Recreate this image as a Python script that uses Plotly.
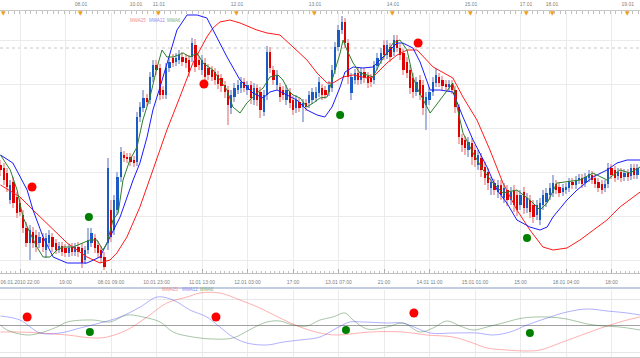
import plotly.graph_objects as go

# ---------------- data (hourly candles, price level units) ----------------
candle_idx = list(range(197))

opens = [115,112,107,80,98,83,77,65,52,37,
         48,45,37,42,30,37,43,37,30,34,
         32,27,33,28,33,32,20,30,37,42,
         35,30,23,37,70,50,70,103,125,123,
         123,120,118,163,172,182,180,203,215,212,
         190,185,212,222,218,220,223,222,220,223,
         235,220,210,217,212,210,208,205,202,195,
         190,172,183,190,192,198,190,195,180,192,
         188,168,185,228,210,195,193,190,180,188,
         180,172,178,173,177,177,180,182,187,192,
         190,188,192,210,233,250,258,237,187,200,
         207,200,208,204,202,200,214,220,235,225,
         233,228,240,232,227,218,210,202,188,200,
         195,175,180,188,197,203,200,196,193,196,
         190,173,142,140,130,137,130,115,122,113,
         108,92,97,88,95,82,90,80,90,85,
         75,88,72,80,75,65,60,75,78,85,
         87,96,93,88,90,92,98,95,100,102,
         97,102,105,102,98,96,92,96,112,110,
         104,108,103,107,104,112,105]

closes = [110,100,93,95,77,67,68,52,37,50,
          37,33,43,33,42,45,33,30,34,28,
          27,32,28,33,28,17,30,40,47,32,
          27,22,13,112,43,80,103,128,122,121,
          118,117,163,173,182,178,203,215,210,185,
          185,212,218,217,222,225,218,217,208,237,
          213,215,220,203,205,203,200,196,194,188,
          175,185,192,195,198,192,195,182,192,180,
          170,185,228,212,200,205,183,185,190,177,
          170,180,172,177,173,185,188,188,198,185,
          185,195,210,233,250,258,237,203,203,207,
          200,208,202,197,198,215,222,227,225,235,
          223,240,232,225,210,207,192,188,198,185,
          172,183,188,198,205,197,194,193,196,190,
          173,143,135,132,138,123,120,125,110,102,
          97,98,90,95,85,92,80,88,75,70,
          85,72,82,68,63,75,77,85,87,92,
          97,90,87,92,93,98,95,100,102,96,
          103,106,100,96,92,90,96,112,105,102,
          108,102,107,103,112,105,112]

highs = [120,117,112,100,103,88,82,70,58,55,
         53,50,48,47,47,50,47,41,38,38,
         36,36,37,37,38,37,34,52,52,46,
         39,34,28,122,80,85,108,133,129,127,
         127,124,168,178,190,186,208,220,220,216,
         194,217,224,226,227,230,228,226,225,242,
         241,224,225,222,216,214,212,209,206,199,
         194,190,197,200,203,202,199,199,197,196,
         193,190,234,233,214,210,197,194,195,192,
         184,185,182,181,181,189,192,193,203,196,
         194,199,215,238,255,264,262,241,207,211,
         212,212,212,208,206,219,227,232,240,240,
         237,245,245,236,231,223,215,207,203,205,
         200,188,193,203,212,207,204,200,200,200,
         194,176,146,144,143,142,135,130,127,118,
         112,103,101,100,100,97,95,93,95,90,
         90,93,87,85,80,80,82,90,92,97,
         105,100,97,96,97,102,102,104,106,106,
         107,110,109,106,102,100,100,117,116,114,
         112,112,111,111,116,116,116]

lows = [104,95,88,76,72,62,64,47,33,20,
        32,28,32,28,22,33,28,26,27,24,
        23,23,24,24,23,12,16,26,33,27,
        22,17,10,30,38,45,65,98,118,117,
        114,113,114,158,168,174,176,198,205,180,
        181,181,208,213,214,216,214,212,203,218,
        208,210,205,198,200,199,195,191,188,182,
        155,166,178,186,187,188,185,176,175,174,
        162,164,180,207,195,190,178,180,175,172,
        165,167,168,158,169,172,176,178,183,180,
        181,184,188,206,229,246,232,196,180,196,
        195,196,197,192,193,196,210,216,220,221,
        218,224,228,220,205,202,186,182,184,180,
        165,150,175,184,193,193,190,189,189,186,
        167,136,128,125,123,115,113,110,103,95,
        90,85,85,82,80,77,74,75,68,64,
        70,66,67,62,57,60,55,70,73,80,
        83,86,83,84,86,88,91,91,96,92,
        93,98,96,92,88,86,88,92,101,98,
        100,98,99,99,100,101,101]

# moving averages on the price panel (sampled at candle positions)
mwa25_x = [0,6,10,16.2,20.5,26.6,30.6,33.7,35.8,38.9,42.9,46.9,51.2,55.2,59.2,63.5,65.4,67.5,70.6,73.7,
           78.9,82,86,90,94.3,97.4,100.5,102.3,105.4,108.5,112.8,114.6,118.9,122,125.1,128.2,129.1,133.1,139.2,142.3,
           146.6,150.6,154.6,158.9,162.9,166.9,170,174.3,178.3,182.3,186.6,190.6,194.6,196.8]
mwa25_y = [95,83,70,50,37,23,17,20,27,43,73,110,150,183,217,243,252,258,260,257,
           250,247,245,233,220,207,197,197,203,205,202,203,217,225,230,230,227,213,202,183,
           160,130,97,70,50,33,30,32,40,50,60,73,83,88]

mwa12_x = [0,3.8,8.2,10,13.1,16.2,20.5,26.6,30.6,32.8,34.6,36.8,40.8,42.9,45.1,46.9,49.1,51.2,54.3,57.4,
           60.5,63.5,65.4,69.7,73.7,77.7,80.8,82.9,85.1,88.2,91.2,94.3,97.4,99.8,102,104.5,106,108.5,111.5,114.6,
           118.9,122,123.8,126.9,129.1,132.2,135.2,139.2,142.3,145.4,149.7,152.8,155.8,158.9,162.9,166,168.2,170,
           174.3,177.4,182.3,186.6,189.7,192.8,196.8]
mwa12_y = [125,117,90,70,43,23,17,17,23,37,50,63,100,117,143,170,193,217,250,265,
           265,262,250,223,200,187,182,188,190,185,180,170,165,163,173,193,208,213,212,213,
           227,237,237,232,218,190,190,188,163,140,113,90,77,60,53,50,53,63,
           80,90,103,110,117,120,120]

mwa6_x = [0,3,5.1,6.9,9.1,11.2,13.1,15.2,17.4,19.2,22.3,25.4,27.5,29.7,31.5,32.8,34.6,36.2,37.7,39.8,
          42,43.8,46,48.2,49.7,51.2,53.1,56.2,58.3,60.5,62.3,65.4,67.5,69.7,71.5,73.7,75.8,78.9,80.8,82.9,
          85.4,86.9,88.5,90,92.2,94.3,96.2,98.3,100.5,102.3,104.5,105.4,106.6,108.5,110.6,112.8,114.6,116.8,118.9,120.8,
          122.9,125.1,126.9,128.5,132.2,135.2,138.3,139.2,140.5,142.3,145.4,148.5,151.5,154.6,158.9,162.9,166,168.2,171.2,174.3,
          178.3,182.3,186.6,190.6,193.7,196.8]
mwa6_y = [125,110,90,63,47,33,23,23,30,33,33,37,40,40,30,37,60,67,100,120,
          133,160,183,213,230,223,223,227,223,227,217,210,200,190,173,167,177,187,192,203,
          205,200,190,185,182,173,177,182,183,203,227,240,230,217,207,205,203,217,227,237,
          240,230,203,190,167,180,193,197,173,147,127,110,97,87,90,80,70,77,97,98,
          100,107,100,110,107,113]

sell_x = [9.7, 62.6, 128.5]
sell_y = [93, 196, 237]
buy_x = [27.2, 104.5, 162]
buy_y = [63, 165, 42]
price_line = 232

# oscillator panel
osc25_x = [0,6,12.2,20.5,28.5,32.8,38.9,45.1,51.2,57.4,61.4,67.5,73.7,79.8,86,92.2,98.3,103.5,113.7,123.8,
           131.2,139.2,144.5,149.7,155.8,162,166,172.2,180.5,186.6,192.8,196.8]
osc25_y = [-7,-7,-8,-10,-13,-12,-5,8,22,28,32,32,25,17,7,-2,-8,-10,-7,-7,
           -10,-12,-17,-23,-25,-26,-25,-18,-8,-1,5,8]
osc12_x = [0,6,12.2,18.3,24.5,30.6,36.8,43,48.2,53.1,58.3,63.5,67.5,71.5,75.8,82,87,92.2,98.3,103.5,
           107.5,111.5,119,123.8,132.2,139.2,146.6,151.5,156.8,162,168.2,174.3,180.5,186.6,192.8,196.8]
osc12_y = [9,5,-8,-8,-3,2,8,18,28,25,15,8,-2,-12,-18,-20,-17,-15,-12,-3,
           3,3,2,2,-8,-8,-8,-10,-7,0,7,13,16,14,12,10]
osc6_x = [0,2,8.2,12.2,17.4,20.5,28.5,33.7,38.9,43.8,49.1,53.1,59.2,65.4,71.5,77.7,82,86,90,94.3,
          98.3,102.3,106,108.5,112.8,119,123.8,129.1,133.1,137.4,141.4,145.4,149.7,154.6,160.8,168.2,174.3,180.5,185.4,190.6,
          196.8]
osc6_y = [0,-5,-10,-8,-2,3,5,3,10,8,3,-7,-12,-14,-13,-3,3,4,0,-1,
          5,8,12,5,-4,-2,2,-7,-3,4,-1,-5,-2,2,7,8,6,1,-1,-2,
          -5]
osc_sell_x = [8.2, 66.3, 127.2]
osc_sell_y = [8, 8, 12]
osc_buy_x = [27.5, 106.3, 162.9]
osc_buy_y = [-7, -5, -8]

# axis labels
bottom_tick_idx = [6,20,34,48,62,76,90,104,118,132,146,160,174,188]
bottom_tick_text = ["06.01.2010 22:00","19:00","08.01 09:00","10.01 23:00","11.01 13:00","12.01 03:00",
                    "17:00","13.01 07:00","21:00","14.01 11:00","15.01 01:00","15:00","18.01 04:00","18:00"]
top_tick_idx = [24.75,41.7,48.75,72.75,96.75,120.75,144.75,161.7,169.7,193.0]
top_tick_text = ["08.01","10.01","11.01","12.01","13.01","14.01","15.01","17.01","18.01","19.01"]
day_marker_idx = [0.8,24.75,48.75,72.75,96.75,120.75,144.75,161.7,169.7,193.0]

# ---------------- figure ----------------
XR = [-0.154, 196.77]
UP_BODY, DN_BODY = "#1b5cc4", "#e00000"
UP_WICK, DN_WICK = "#aab6dc", "#f0b0b0"
FONT = "Liberation Sans, Arial, sans-serif"

is_up = [c >= o for o, c in zip(opens, closes)]

fig = go.Figure()
# wicks
fig.add_trace(go.Bar(x=candle_idx, base=lows, y=[h - l for h, l in zip(highs, lows)],
                     width=0.32, marker=dict(color=[UP_WICK if u else DN_WICK for u in is_up], line_width=0),
                     xaxis="x", yaxis="y", hoverinfo="skip"))
# bodies
fig.add_trace(go.Bar(x=candle_idx, base=opens, y=[c - o for o, c in zip(opens, closes)],
                     width=0.7, marker=dict(color=[UP_BODY if u else DN_BODY for u in is_up], line_width=0),
                     xaxis="x", yaxis="y"))
# moving averages
fig.add_trace(go.Scatter(x=mwa25_x, y=mwa25_y, mode="lines", line=dict(color="#ff1a1a", width=1)))
fig.add_trace(go.Scatter(x=mwa12_x, y=mwa12_y, mode="lines", line=dict(color="#1a1aff", width=1)))
fig.add_trace(go.Scatter(x=mwa6_x, y=mwa6_y, mode="lines", line=dict(color="#2d7d2d", width=1)))
fig.add_trace(go.Scatter(x=sell_x, y=sell_y, mode="markers", marker=dict(color="#ff0000", size=9, line_width=0)))
fig.add_trace(go.Scatter(x=buy_x, y=buy_y, mode="markers", marker=dict(color="#008000", size=8, line_width=0)))
# the date axis along the top shares the candle positions (invisible carrier trace so the axis is drawn)
fig.add_trace(go.Scatter(x=top_tick_idx, y=[closes[0]] * len(top_tick_idx), mode="markers",
                         marker=dict(opacity=0, size=1), xaxis="x3", yaxis="y", hoverinfo="skip"))
# oscillator
fig.add_trace(go.Scatter(x=osc25_x, y=osc25_y, mode="lines", line=dict(color="rgba(255,60,60,0.4)", width=1, shape="spline"),
                         xaxis="x2", yaxis="y2"))
fig.add_trace(go.Scatter(x=osc12_x, y=osc12_y, mode="lines", line=dict(color="rgba(60,60,255,0.4)", width=1, shape="spline"),
                         xaxis="x2", yaxis="y2"))
fig.add_trace(go.Scatter(x=osc6_x, y=osc6_y, mode="lines", line=dict(color="rgba(40,110,40,0.4)", width=1, shape="spline"),
                         xaxis="x2", yaxis="y2"))
fig.add_trace(go.Scatter(x=osc_sell_x, y=osc_sell_y, mode="markers", marker=dict(color="#ff0000", size=9, line_width=0),
                         xaxis="x2", yaxis="y2"))
fig.add_trace(go.Scatter(x=osc_buy_x, y=osc_buy_y, mode="markers", marker=dict(color="#008000", size=8, line_width=0),
                         xaxis="x2", yaxis="y2"))

H = 358.0
def py(px):
    return 1 - px / H

fig.update_layout(
    template="none",
    width=640, height=358, margin=dict(l=0, r=0, t=0, b=0, pad=0),
    paper_bgcolor="white", plot_bgcolor="white",
    showlegend=False, barmode="overlay", bargap=0,
    font=dict(family=FONT, size=5, color="#808080"),
    xaxis=dict(domain=[0, 1], range=XR, anchor="y", automargin=False,
               tickmode="array", tickvals=bottom_tick_idx, ticktext=bottom_tick_text,
               ticks="inside", ticklen=4, tickcolor="#b0b0b0", ticklabelstandoff=4,
               showline=True, linecolor="#c0c0c0", linewidth=1,
               showgrid=True, gridcolor="#ebebeb", gridwidth=1, zeroline=False,
               tickfont=dict(size=5, color="#808080"),
               minor=dict(tickmode="linear", tick0=6, dtick=1.4, ticks="inside", ticklen=2,
                          tickcolor="#c0c0c0", showgrid=False)),
    yaxis=dict(domain=[py(273), py(12)], range=[7, 268], anchor="x", automargin=False,
               tickmode="linear", tick0=20, dtick=44, showticklabels=False, ticks="",
               showgrid=True, gridcolor="#ebebeb", zeroline=False, showline=False),
    xaxis3=dict(overlaying="x", side="top", anchor="free", position=py(10), range=XR, automargin=False,
                tickmode="array", tickvals=top_tick_idx, ticktext=top_tick_text, ticks="",
                ticklabelstandoff=2,
                showline=True, linecolor="#c8c8c8", showgrid=False, zeroline=False,
                tickfont=dict(size=5, color="#808080"),
                minor=dict(tickmode="linear", tick0=0.8, dtick=1.714, ticks="inside", ticklen=3,
                           tickcolor="#c0c0c0", showgrid=False)),
    xaxis2=dict(domain=[0, 1], range=XR, anchor="y2", matches="x", automargin=False,
                tickmode="array", tickvals=bottom_tick_idx, showticklabels=False, ticks="",
                showline=True, linecolor="#c8c8c8", showgrid=True, gridcolor="#ebebeb", zeroline=False),
    yaxis2=dict(domain=[py(357), py(290)], range=[-32, 35], anchor="x2", automargin=False,
                tickmode="array", tickvals=[-27, 26], showticklabels=False, ticks="",
                showgrid=True, gridcolor="#e6e6e6", zeroline=True, zerolinecolor="#a0a0a0", zerolinewidth=1,
                showline=False),
    shapes=[
        dict(type="line", xref="paper", yref="y", x0=0, x1=1, y0=price_line, y1=price_line,
             line=dict(color="#c8c8c8", width=1, dash="dot"), layer="below"),
        dict(type="line", xref="paper", yref="paper", x0=0, x1=1, y0=py(288), y1=py(288),
             line=dict(color="#c3cde0", width=2)),
    ],
)

# orange day markers sitting on the top date axis
for d in day_marker_idx:
    fig.add_annotation(x=d, xref="x", y=py(7.5), yref="paper", text="▼", showarrow=False,
                       font=dict(size=6, color="#f0a020", family="DejaVu Sans"))

legend_items = [("MWA25", "#f08c8c"), ("MWA12", "#8c8cf0"), ("MWA6", "#80b080")]
main_leg_x = [127.5, 146.5, 164.5]
osc_leg_x = [160, 180, 198]
for (txt, col), mx, ox in zip(legend_items, main_leg_x, osc_leg_x):
    fig.add_annotation(x=mx / 640, y=py(16), xref="paper", yref="paper", text=txt, showarrow=False,
                       font=dict(size=4.5, color=col, family=FONT))
    fig.add_annotation(x=ox / 640, y=py(293.5), xref="paper", yref="paper", text=txt, showarrow=False,
                       font=dict(size=4.5, color=col, family=FONT))

fig.write_html("out.html", config={"displayModeBar": False},
               post_script="document.body.style.margin='0';document.body.style.overflow='hidden';")
